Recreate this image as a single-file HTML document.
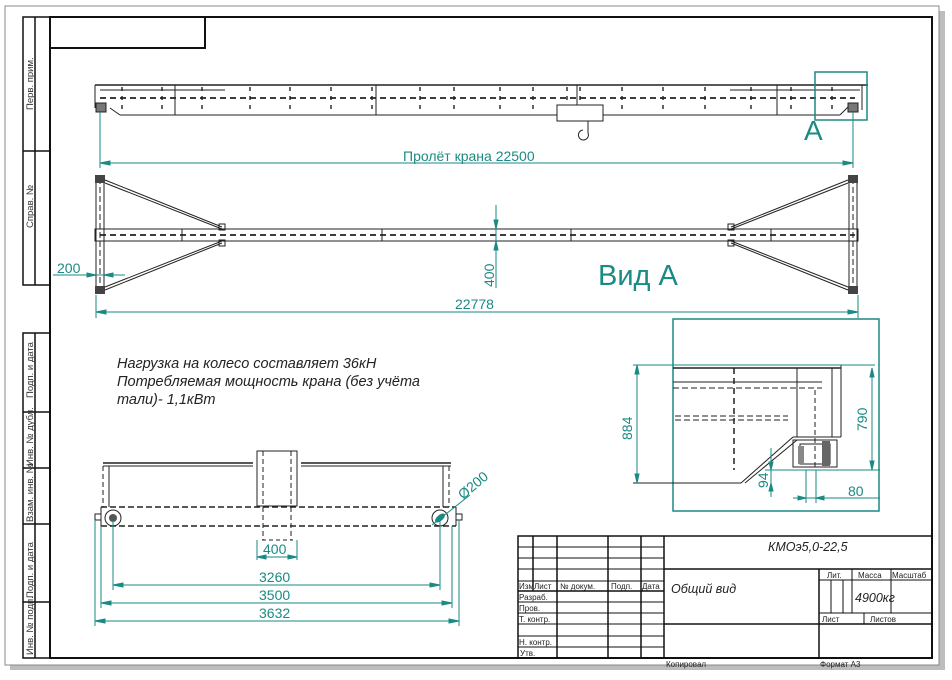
<!DOCTYPE html>
<html><head><meta charset="utf-8"><style>
html,body{margin:0;padding:0;background:#fff;width:952px;height:680px;overflow:hidden}
svg{display:block}
text{font-family:"Liberation Sans",sans-serif}
</style></head><body>
<svg width="952" height="680" viewBox="0 0 952 680" xmlns="http://www.w3.org/2000/svg">
<rect x="10" y="11" width="935" height="659" fill="#bdbdbd"/>
<rect x="5" y="6" width="934" height="659" fill="#fff" stroke="#888" stroke-width="1"/>
<rect x="50" y="17" width="882" height="641" fill="none" stroke="#111" stroke-width="2"/>
<rect x="50" y="17" width="155" height="31" fill="none" stroke="#111" stroke-width="2"/>
<g fill="none" stroke="#111" stroke-width="1.5">
<rect x="23" y="17" width="27" height="268"/>
<line x1="35" y1="17" x2="35" y2="285"/>
<line x1="23" y1="151" x2="50" y2="151"/>
<rect x="23" y="333" width="27" height="325"/>
<line x1="35" y1="333" x2="35" y2="658"/>
<line x1="23" y1="412" x2="50" y2="412"/>
<line x1="23" y1="468" x2="50" y2="468"/>
<line x1="23" y1="524" x2="50" y2="524"/>
<line x1="23" y1="602" x2="50" y2="602"/>
</g>
<g font-size="9.5" fill="#333">
<text transform="translate(33,110) rotate(-90)">Перв. прим.</text>
<text transform="translate(33,228) rotate(-90)">Справ. №</text>
<text transform="translate(33,398) rotate(-90)">Подп. и дата</text>
<text transform="translate(33,466) rotate(-90)">Инв. № дубл.</text>
<text transform="translate(33,522) rotate(-90)">Взам. инв. №</text>
<text transform="translate(33,598) rotate(-90)">Подп. и дата</text>
<text transform="translate(33,655) rotate(-90)">Инв. № подп.</text>
</g>

<g fill="none" stroke="#222" stroke-width="1">
<line x1="95" y1="85" x2="868" y2="85" stroke-width="1.5"/>
<line x1="120" y1="115" x2="840" y2="115"/>
<line x1="95" y1="85" x2="95" y2="108"/>
<line x1="100" y1="90" x2="225" y2="90"/>
<line x1="730" y1="90" x2="860" y2="90"/>
<line x1="110" y1="108" x2="120" y2="115"/>
<line x1="840" y1="115" x2="850" y2="105"/>
<line x1="862" y1="85" x2="862" y2="110"/>
<line x1="175" y1="85" x2="175" y2="115"/>
<line x1="376" y1="85" x2="376" y2="115"/>
<line x1="577" y1="85" x2="577" y2="115"/>
<line x1="777" y1="85" x2="777" y2="115"/>
<line x1="100" y1="98" x2="855" y2="98" stroke-dasharray="6,4" stroke-width="1.7"/>
<g stroke-dasharray="4,5" stroke-width="1.4">
<line x1="122" y1="87" x2="122" y2="112"/><line x1="162" y1="87" x2="162" y2="112"/>
<line x1="202" y1="87" x2="202" y2="112"/><line x1="250" y1="87" x2="250" y2="112"/>
<line x1="290" y1="87" x2="290" y2="112"/><line x1="331" y1="87" x2="331" y2="112"/>
<line x1="372" y1="87" x2="372" y2="112"/><line x1="420" y1="87" x2="420" y2="112"/>
<line x1="454" y1="87" x2="454" y2="112"/><line x1="500" y1="87" x2="500" y2="112"/>
<line x1="533" y1="87" x2="533" y2="112"/><line x1="567" y1="87" x2="567" y2="112"/>
<line x1="580" y1="87" x2="580" y2="112"/><line x1="622" y1="87" x2="622" y2="112"/>
<line x1="663" y1="87" x2="663" y2="112"/><line x1="705" y1="87" x2="705" y2="112"/>
<line x1="751" y1="87" x2="751" y2="112"/><line x1="791" y1="87" x2="791" y2="112"/>
<line x1="832" y1="87" x2="832" y2="112"/>
</g>
<rect x="96" y="103" width="10" height="9" fill="#777"/>
<rect x="848" y="103" width="10" height="9" fill="#777"/>
<rect x="557" y="105" width="46" height="16" fill="#fff"/>
<path d="M588 121 V133 A5 5 0 1 1 583 130"/>
</g>
<rect x="815" y="72" width="52" height="48" fill="none" stroke="#1a8a84" stroke-width="1.5"/>
<text x="804" y="140" font-size="28" fill="#1a8a84">А</text>

<g stroke="#1a8a84" fill="#1a8a84" stroke-width="1">
<line x1="100" y1="112" x2="100" y2="168"/>
<line x1="853" y1="112" x2="853" y2="168"/>
<line x1="100" y1="163" x2="853" y2="163"/>
<path d="M100 163 l10 -2 v4z M853 163 l-10 -2 v4z"/>
</g>
<text x="403" y="161" font-size="14" fill="#1a8a84">Пролёт крана 22500</text>

<g fill="none" stroke="#222" stroke-width="1">
<rect x="96" y="176" width="8" height="117"/>
<rect x="849" y="176" width="8" height="117"/>
<rect x="95" y="229" width="763" height="12"/>
<line x1="100" y1="235" x2="855" y2="235" stroke-dasharray="6,4" stroke-width="1.7"/>
<line x1="100" y1="178" x2="100" y2="290" stroke-dasharray="6,3"/>
<line x1="853" y1="178" x2="853" y2="290" stroke-dasharray="6,3"/>
<line x1="105" y1="180" x2="222" y2="227"/><line x1="105" y1="183" x2="222" y2="229"/>
<line x1="105" y1="290" x2="222" y2="243"/><line x1="105" y1="287" x2="222" y2="241"/>
<line x1="848" y1="180" x2="731" y2="227"/><line x1="848" y1="183" x2="731" y2="229"/>
<line x1="848" y1="290" x2="731" y2="243"/><line x1="848" y1="287" x2="731" y2="241"/>
<rect x="219" y="224" width="6" height="6"/><rect x="219" y="240" width="6" height="6"/>
<rect x="728" y="224" width="6" height="6"/><rect x="728" y="240" width="6" height="6"/>
<line x1="182" y1="229" x2="182" y2="241"/><line x1="382" y1="229" x2="382" y2="241"/>
<line x1="571" y1="229" x2="571" y2="241"/><line x1="771" y1="229" x2="771" y2="241"/>
</g>
<rect x="95" y="175" width="10" height="8" fill="#444"/><rect x="95" y="286" width="10" height="8" fill="#444"/>
<rect x="848" y="175" width="10" height="8" fill="#444"/><rect x="848" y="286" width="10" height="8" fill="#444"/>

<g stroke="#1a8a84" fill="#1a8a84" stroke-width="1">
<line x1="53" y1="275" x2="125" y2="275"/>
<path d="M96 275 l-9 -2 v4z M104 275 l9 -2 v4z"/>
<line x1="496" y1="205" x2="496" y2="288"/>
<path d="M496 229 l-2 -9 h4z M496 241 l-2 9 h4z"/>
<line x1="96" y1="295" x2="96" y2="318"/>
<line x1="858" y1="295" x2="858" y2="318"/>
<line x1="96" y1="312" x2="858" y2="312"/>
<path d="M96 312 l10 -2 v4z M858 312 l-10 -2 v4z"/>
</g>
<text x="57" y="273" font-size="14" fill="#1a8a84">200</text>
<text transform="translate(494,287) rotate(-90)" font-size="14" fill="#1a8a84">400</text>
<text x="455" y="309" font-size="14" fill="#1a8a84">22778</text>
<text x="598" y="285" font-size="29" fill="#1a8a84">Вид А</text>

<g font-size="14.5" font-style="italic" fill="#222">
<text x="117" y="368">Нагрузка на колесо составляет 36кН</text>
<text x="117" y="386">Потребляемая мощность крана (без учёта</text>
<text x="117" y="404">тали)- 1,1кВт</text>
</g>

<g fill="none" stroke="#222" stroke-width="1">
<line x1="103" y1="463" x2="253" y2="463" stroke-width="1.5"/>
<line x1="301" y1="463" x2="451" y2="463" stroke-width="1.5"/>
<line x1="103" y1="466" x2="253" y2="466"/>
<line x1="301" y1="466" x2="451" y2="466"/>
<rect x="257" y="451" width="40" height="55"/>
<line x1="263" y1="451" x2="263" y2="540" stroke-dasharray="5,3"/>
<line x1="291" y1="451" x2="291" y2="540" stroke-dasharray="5,3"/>
<line x1="103" y1="466" x2="103" y2="507" stroke-dasharray="5,3"/>
<line x1="109" y1="466" x2="109" y2="507"/>
<line x1="443" y1="466" x2="443" y2="507"/>
<line x1="449" y1="466" x2="449" y2="507" stroke-dasharray="5,3"/>
<line x1="101" y1="507" x2="456" y2="507" stroke-dasharray="6,3" stroke-width="1.5"/>
<line x1="101" y1="526" x2="456" y2="526" stroke-dasharray="6,3" stroke-width="1.5"/>
<line x1="101" y1="507" x2="101" y2="526"/>
<line x1="456" y1="507" x2="456" y2="526"/>
<line x1="262" y1="540" x2="293" y2="540" stroke-dasharray="4,3"/>
<circle cx="113" cy="518" r="8"/><circle cx="440" cy="518" r="8"/>
<rect x="95" y="514" width="6" height="6"/><rect x="456" y="514" width="6" height="6"/>
</g>
<circle cx="113" cy="518" r="4" fill="#555"/>
<ellipse cx="440" cy="518" rx="6" ry="3" fill="#1a8a84" transform="rotate(-40 440 518)"/>
<g stroke="#1a8a84" fill="#1a8a84" stroke-width="1">
<line x1="432" y1="525" x2="470" y2="495"/>
<line x1="113" y1="520" x2="113" y2="590"/>
<line x1="440" y1="520" x2="440" y2="590"/>
<line x1="101" y1="526" x2="101" y2="608"/>
<line x1="452" y1="526" x2="452" y2="608"/>
<line x1="95" y1="520" x2="95" y2="626"/>
<line x1="459" y1="520" x2="459" y2="626"/>
<line x1="257" y1="540" x2="257" y2="560"/>
<line x1="297" y1="540" x2="297" y2="560"/>
<line x1="257" y1="557" x2="297" y2="557"/>
<path d="M257 557 l9 -2 v4z M297 557 l-9 -2 v4z"/>
<line x1="113" y1="585" x2="440" y2="585"/>
<path d="M113 585 l10 -2 v4z M440 585 l-10 -2 v4z"/>
<line x1="101" y1="603" x2="452" y2="603"/>
<path d="M101 603 l10 -2 v4z M452 603 l-10 -2 v4z"/>
<line x1="95" y1="621" x2="459" y2="621"/>
<path d="M95 621 l10 -2 v4z M459 621 l-10 -2 v4z"/>
</g>
<g font-size="14" fill="#1a8a84">
<text x="263" y="554">400</text>
<text x="259" y="582">3260</text>
<text x="259" y="600">3500</text>
<text x="259" y="618">3632</text>
<text transform="translate(463,500) rotate(-40)">Ø200</text>
</g>

<rect x="673" y="319" width="206" height="192" fill="none" stroke="#1a8a84" stroke-width="1.5"/>
<g fill="none" stroke="#222" stroke-width="1">
<line x1="673" y1="368" x2="841" y2="368" stroke-width="1.5"/>
<line x1="673" y1="382" x2="822" y2="382"/>
<line x1="673" y1="388" x2="822" y2="388" stroke-dasharray="6,3"/>
<line x1="797" y1="368" x2="797" y2="437"/>
<line x1="832" y1="368" x2="832" y2="437"/>
<line x1="841" y1="365" x2="841" y2="437"/>
<line x1="734" y1="368" x2="734" y2="470" stroke-dasharray="6,4" stroke-width="1.5"/>
<line x1="675" y1="416" x2="788" y2="416" stroke-dasharray="6,3"/>
<line x1="675" y1="420" x2="788" y2="420" stroke-dasharray="6,3"/>
<line x1="815" y1="390" x2="815" y2="470" stroke-dasharray="5,3"/>
<line x1="633" y1="483" x2="741" y2="483"/>
<line x1="741" y1="483" x2="793" y2="437"/>
<line x1="745" y1="483" x2="797" y2="440"/>
<line x1="793" y1="437" x2="841" y2="437"/>
<rect x="793" y="440" width="44" height="27"/>
<rect x="800" y="444" width="30" height="20"/>
</g>
<rect x="822" y="441" width="8" height="25" fill="#666"/>
<rect x="798" y="446" width="6" height="18" fill="#888"/>
<g stroke="#1a8a84" fill="#1a8a84" stroke-width="1">
<line x1="633" y1="365" x2="875" y2="365"/>
<line x1="637" y1="365" x2="637" y2="483"/>
<path d="M637 365 l-2 9 h4z M637 483 l-2 -9 h4z"/>
<line x1="872" y1="368" x2="872" y2="470"/>
<path d="M872 368 l-2 9 h4z M872 470 l-2 -9 h4z"/>
<line x1="771" y1="448" x2="771" y2="497"/>
<line x1="765" y1="470" x2="880" y2="470"/>
<path d="M771 470 l-2 -8 h4z M771 483 l-2 8 h4z"/>
<line x1="806" y1="470" x2="806" y2="503"/>
<line x1="816" y1="470" x2="816" y2="503"/>
<line x1="793" y1="498" x2="880" y2="498"/>
<path d="M806 498 l-8 -2 v4z M816 498 l8 -2 v4z"/>
</g>
<g font-size="14" fill="#1a8a84">
<text transform="translate(632,440) rotate(-90)">884</text>
<text transform="translate(867,431) rotate(-90)">790</text>
<text transform="translate(768,488) rotate(-90)">94</text>
<text x="848" y="496">80</text>
</g>

<g fill="none" stroke="#111" stroke-width="1.5">
<rect x="518" y="536" width="414" height="122"/>
<line x1="664" y1="536" x2="664" y2="658"/>
<line x1="664" y1="569" x2="932" y2="569"/>
<line x1="664" y1="624" x2="932" y2="624"/>
<line x1="819" y1="569" x2="819" y2="658"/>
<line x1="819" y1="580" x2="932" y2="580" stroke-width="1"/>
<line x1="819" y1="613" x2="932" y2="613" stroke-width="1"/>
<line x1="852" y1="569" x2="852" y2="613" stroke-width="1"/>
<line x1="891" y1="569" x2="891" y2="613" stroke-width="1"/>
<line x1="864" y1="613" x2="864" y2="624" stroke-width="1"/>
<line x1="831" y1="580" x2="831" y2="613" stroke-width="1"/>
<line x1="843" y1="580" x2="843" y2="613" stroke-width="1"/>
<line x1="533" y1="536" x2="533" y2="591"/>
<line x1="557" y1="536" x2="557" y2="658"/>
<line x1="608" y1="536" x2="608" y2="658"/>
<line x1="641" y1="536" x2="641" y2="658"/>
</g>
<g stroke="#111" stroke-width="1">
<line x1="518" y1="547" x2="664" y2="547"/>
<line x1="518" y1="558" x2="664" y2="558"/>
<line x1="518" y1="569" x2="664" y2="569"/>
<line x1="518" y1="581" x2="664" y2="581"/>
<line x1="518" y1="591" x2="664" y2="591" stroke-width="1.5"/>
<line x1="518" y1="602" x2="664" y2="602"/>
<line x1="518" y1="613" x2="664" y2="613"/>
<line x1="518" y1="624" x2="664" y2="624"/>
<line x1="518" y1="636" x2="664" y2="636"/>
<line x1="518" y1="647" x2="664" y2="647"/>
</g>
<g font-size="8" fill="#222">
<text x="519" y="589">Изм</text><text x="534" y="589">Лист</text><text x="560" y="589">№ докум.</text>
<text x="611" y="589">Подп.</text><text x="642" y="589">Дата</text>
<text x="519" y="600">Разраб.</text><text x="519" y="611">Пров.</text><text x="519" y="622">Т. контр.</text>
<text x="519" y="645">Н. контр.</text><text x="520" y="656">Утв.</text>
<text x="827" y="578">Лит.</text><text x="858" y="578">Масса</text><text x="892" y="578">Масштаб</text>
<text x="822" y="622">Лист</text><text x="870" y="622">Листов</text>
<text x="666" y="667">Копировал</text><text x="820" y="667">Формат А3</text>
</g>
<g font-size="12.5" font-style="italic" fill="#222">
<text x="768" y="551">КМОэ5,0-22,5</text>
<text x="671" y="593">Общий вид</text>
<text x="855" y="602">4900кг</text>
</g>
</svg>
</body></html>
